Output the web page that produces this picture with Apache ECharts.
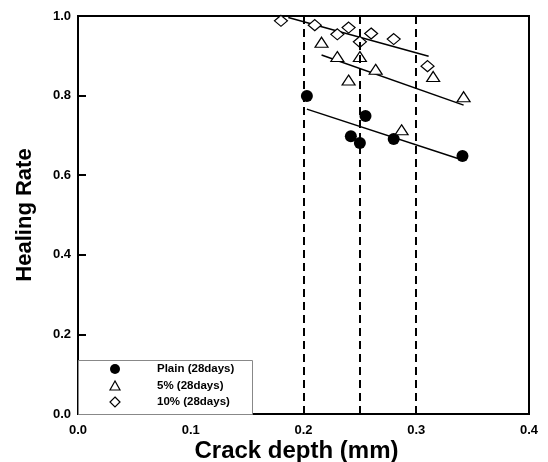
<!DOCTYPE html>
<html>
<head>
<meta charset="utf-8">
<script src="https://cdn.jsdelivr.net/npm/echarts@6/dist/echarts.min.js"></script>
<style>
  html, body { margin: 0; padding: 0; background: #fff; }
  #chart { width: 548px; height: 462px; }
</style>
</head>
<body>
<div id="chart"></div>
<script>
// Healing rate vs. crack depth, 28-day specimens
const plainX = [0.203, 0.242, 0.250, 0.255, 0.280, 0.341];
const plainY = [0.799, 0.698, 0.681, 0.749, 0.691, 0.648];

const pct5X = [0.216, 0.230, 0.240, 0.250, 0.264, 0.287, 0.315, 0.342];
const pct5Y = [0.934, 0.898, 0.839, 0.898, 0.866, 0.714, 0.848, 0.797];

const pct10X = [0.180, 0.210, 0.230, 0.240, 0.250, 0.260, 0.280, 0.310];
const pct10Y = [0.988, 0.977, 0.954, 0.971, 0.935, 0.956, 0.942, 0.874];

// Linear fit end points for each group
const plainFitX = [0.203, 0.339];
const plainFitY = [0.766, 0.640];
const pct5FitX = [0.216, 0.342];
const pct5FitY = [0.902, 0.776];
const pct10FitX = [0.1865, 0.311];
const pct10FitY = [0.996, 0.899];

// Reference crack depths
const refDepths = [0.2, 0.25, 0.3];

const xTicks = [0.0, 0.1, 0.2, 0.3, 0.4];
const yTicks = [0.0, 0.2, 0.4, 0.6, 0.8, 1.0];

const legendNames = ['Plain (28days)', '5% (28days)', '10% (28days)'];

const zip = (xs, ys) => xs.map((x, i) => [x, ys[i]]);
const FONT = 'Liberation Sans, Arial, sans-serif';

const chart = echarts.init(document.getElementById('chart'));

const lineStyle = { color: '#000', width: 1.5 };

chart.setOption({
  animation: false,
  backgroundColor: '#fff',
  grid: {
    left: 78, top: 16, right: 19, bottom: 48,
    containLabel: false, outerBoundsMode: 'none',
    show: true, borderColor: '#000', borderWidth: 2, backgroundColor: 'transparent'
  },
  xAxis: {
    type: 'value', min: 0, max: 0.4, interval: 0.1,
    axisLine: { lineStyle: { color: '#000', width: 2 } },
    axisTick: { inside: true, length: 8, lineStyle: { color: '#000', width: 2 } },
    splitLine: { show: false },
    axisLabel: {
      color: '#000', fontFamily: FONT, fontWeight: 'bold', fontSize: 13, margin: 10,
      formatter: v => xTicks.includes(+v.toFixed(1)) ? v.toFixed(1) : ''
    },
    name: 'Crack depth (mm)', nameLocation: 'middle', nameGap: 25, nameMoveOverlap: false,
    nameTextStyle: { color: '#000', fontFamily: FONT, fontWeight: 'bold', fontSize: 24, padding: [0, 14, 0, 0] }
  },
  yAxis: {
    type: 'value', min: 0, max: 1.0, interval: 0.2,
    axisLine: { lineStyle: { color: '#000', width: 2 } },
    axisTick: { inside: true, length: 8, lineStyle: { color: '#000', width: 2 } },
    splitLine: { show: false },
    axisLabel: {
      color: '#000', fontFamily: FONT, fontWeight: 'bold', fontSize: 13, margin: 7,
      formatter: v => yTicks.includes(+v.toFixed(1)) ? v.toFixed(1) : ''
    },
    name: 'Healing Rate', nameLocation: 'middle', nameGap: 42, nameMoveOverlap: false,
    nameTextStyle: { color: '#000', fontFamily: FONT, fontWeight: 'bold', fontSize: 22 }
  },
  series: [
    {
      type: 'line', data: zip(plainFitX, plainFitY), symbol: 'none',
      lineStyle, silent: true, z: 2,
      markLine: {
        silent: true, symbol: 'none', label: { show: false },
        lineStyle: { color: '#000', width: 2, type: [8, 5] },
        data: refDepths.map(d => ({ xAxis: d }))
      }
    },
    { type: 'line', data: zip(pct5FitX, pct5FitY), symbol: 'none', lineStyle, silent: true, z: 2 },
    { type: 'line', data: zip(pct10FitX, pct10FitY), symbol: 'none', lineStyle, silent: true, z: 2 },
    {
      name: legendNames[0], type: 'scatter', data: zip(plainX, plainY),
      symbol: 'circle', symbolSize: 12, z: 3,
      itemStyle: { color: '#000', opacity: 1 }
    },
    {
      name: legendNames[1], type: 'scatter', data: zip(pct5X, pct5Y),
      symbol: 'triangle', symbolSize: [13, 10], z: 3,
      itemStyle: { color: '#fff', borderColor: '#000', borderWidth: 1.2, opacity: 1 }
    },
    {
      name: legendNames[2], type: 'scatter', data: zip(pct10X, pct10Y),
      symbol: 'diamond', symbolSize: [13, 11], z: 3,
      itemStyle: { color: '#fff', borderColor: '#000', borderWidth: 1.2, opacity: 1 }
    }
  ],
  graphic: [
    {
      type: 'rect', left: 78, top: 360, z: 10,
      shape: { width: 174, height: 54 },
      style: { fill: '#fff', stroke: '#888', lineWidth: 1 }
    },
    {
      type: 'circle', z: 11, shape: { cx: 115, cy: 369, r: 5 },
      style: { fill: '#000' }
    },
    {
      type: 'polygon', z: 11,
      shape: { points: [[115, 381], [110, 390], [120, 390]] },
      style: { fill: '#fff', stroke: '#000', lineWidth: 1.2 }
    },
    {
      type: 'polygon', z: 11,
      shape: { points: [[115, 397], [120, 402], [115, 407], [110, 402]] },
      style: { fill: '#fff', stroke: '#000', lineWidth: 1.2 }
    },
    ...legendNames.map((t, i) => ({
      type: 'text', z: 11, left: 157, top: 363 + i * 16.5,
      style: { text: t, fill: '#000', font: 'bold 11.5px ' + FONT }
    }))
  ]
});
</script>
</body>
</html>
